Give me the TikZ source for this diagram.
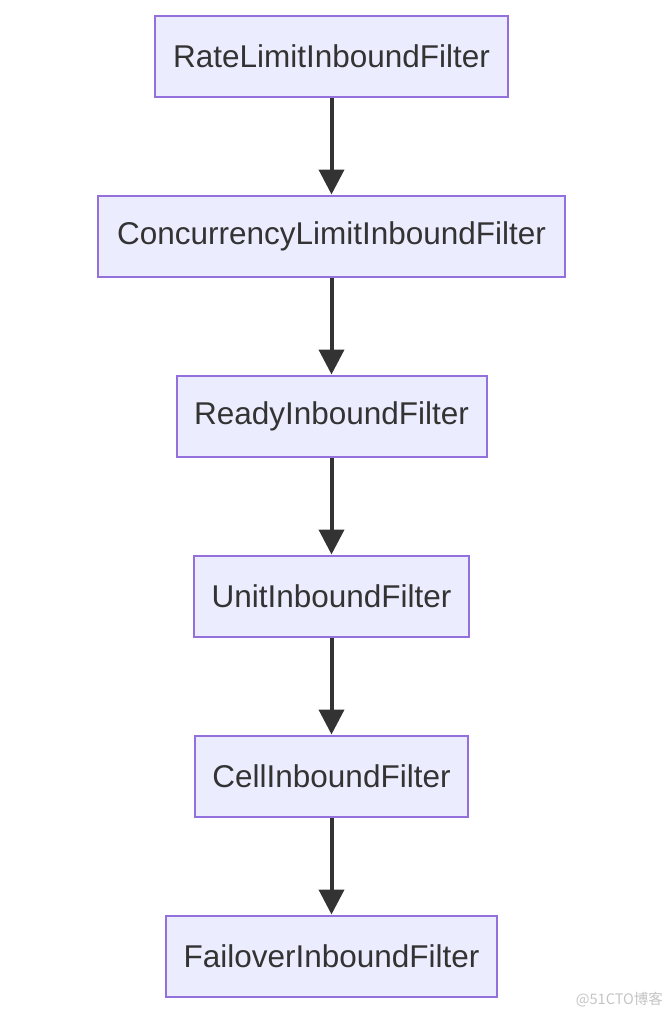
\documentclass[tikz,border=0pt]{standalone}
\usepackage{fontspec}
\setmainfont{Liberation Sans}
\newfontfamily\cjk{Noto Sans CJK SC}
\usetikzlibrary{arrows.meta}
\definecolor{boxfill}{HTML}{ECECFF}
\definecolor{boxline}{HTML}{9370DB}
\definecolor{ink}{HTML}{333333}
\definecolor{wm}{HTML}{C4C4C4}
\tikzset{
  filterbox/.style={draw=boxline, fill=boxfill, line width=2pt, minimum height=81pt,
    inner sep=0pt, text=ink, font=\fontsize{31.5}{36}\selectfont},
  flow/.style={draw=ink, line width=4pt, -{Triangle[length=25pt,width=25pt]}, shorten >=0.5pt}
}
\begin{document}
\begin{tikzpicture}[x=1pt,y=-1pt]
\useasboundingbox (0,0) rectangle (672,1018);
\node[filterbox, minimum width=353pt] (a) at (331.5,56.5) {RateLimitInboundFilter};
\node[filterbox, minimum width=467pt] (b) at (331.5,236.5) {ConcurrencyLimitInboundFilter};
\node[filterbox, minimum width=310pt] (c) at (331.5,416.5) {ReadyInboundFilter};
\node[filterbox, minimum width=275pt] (d) at (331.5,596.5) {UnitInboundFilter};
\node[filterbox, minimum width=273pt] (e) at (331.5,776.5) {CellInboundFilter};
\node[filterbox, minimum width=331pt] (f) at (331.5,956.5) {FailoverInboundFilter};
\draw[flow] (a) -- (b);
\draw[flow] (b) -- (c);
\draw[flow] (c) -- (d);
\draw[flow] (d) -- (e);
\draw[flow] (e) -- (f);
\node[text=wm, font=\cjk\fontsize{14.5}{16}\selectfont, anchor=east, inner sep=0pt] (wmk) at (663,1000) {@51CTO博客};
\end{tikzpicture}
\end{document}
